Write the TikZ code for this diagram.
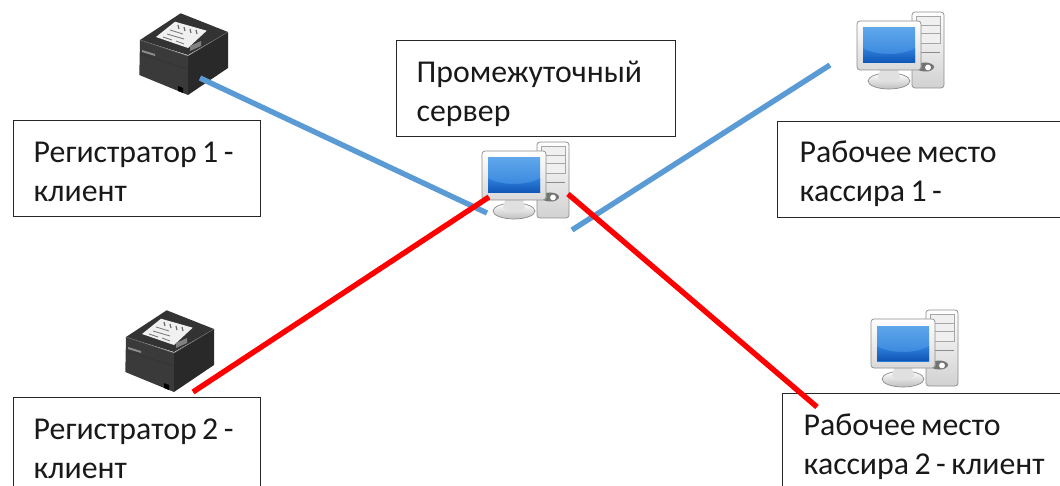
\documentclass[tikz,border=0pt]{standalone}
\usepackage{fontspec}
\setmainfont{Carlito}
\newcommand{\wsp}{\hspace{5.5pt}}
\definecolor{lineblue}{HTML}{5B9BD5}
\definecolor{linered}{HTML}{FF0000}
\definecolor{scrtop}{HTML}{5FA6EA}
\definecolor{scrmid}{HTML}{2F80DC}
\definecolor{scrlow}{HTML}{0E55B4}
\definecolor{prtop}{HTML}{333333}
\definecolor{prfront}{HTML}{3A3A3A}
\definecolor{prside}{HTML}{292929}
\tikzset{
  x=1pt,y=-1pt,
  labelbox/.style={draw=black!85,line width=1.4pt,fill=white,anchor=north west,inner sep=0pt,align=left,
    font=\fontsize{31.8}{39}\selectfont,text=black!90,text depth=46pt},
  wire/.style={line width=5.4pt,line cap=butt},
  printer/.pic={
    \fill[prtop] (40.7,0.3)--(88,19)--(48,42)--(0,27)--cycle;
    \fill[prfront] (0,27)--(48,43)--(48,82)--(-0.7,62)--cycle;
    \fill[prside] (88,19)--(88,55)--(48,82)--(48,43)--cycle;
    \draw[black!60,line width=.5pt] (0,27)--(48,43)--(88,19);
    \draw[black!80,line width=.6pt] (1,41)--(47,56);
    \fill[black!6] (35,8.7)--(66.7,17.7)--(48,35)--(16,24)--cycle;
    \draw[black!60,line width=1.2pt] (38,12)--(39,16) (44,14)--(45,18) (50,16)--(51,20) (56,17)--(57,21);
    \draw[black!55,line width=.8pt] (30,17)--(43,21) (27,21)--(44,26) (23,24)--(32,27) (36,28)--(44,31);
    \fill[black!50] (50,33)--(61,28)--(61,33)--(50,38)--cycle;
    \fill[black!45] (2,37)--(15,41)--(15,43)--(2,39)--cycle;
    \fill[black] (38,73)--(43,75)--(43,80)--(38,78)--cycle;
  },
  computer/.pic={
    % tower
    \draw[black!45,line width=.7pt,rounded corners=3pt,top color=white,bottom color=black!18] (55,0) rectangle (87,76);
    \draw[black!35,fill=black!6,line width=.5pt] (59,4) rectangle (83,13);
    \draw[black!35,fill=black!6,line width=.5pt] (59,13) rectangle (83,21);
    \draw[black!35,fill=black!6,line width=.5pt] (59,21) rectangle (83,31);
    \draw[black!45,line width=.8pt] (59,40)--(83,40);
    \fill[black!55] (68,55) ellipse (9 and 4.5);
    \fill[green!35!black!55] (62,55) ellipse (3 and 3);
    \draw[black!55,fill=white,line width=.8pt] (71,55.5) circle (3.5);
    % stand
    \draw[black!45,line width=.7pt,top color=white,bottom color=black!25] (32,69) ellipse (21 and 8);
    \fill[black!12] (23,58)--(41,58)--(43,66) .. controls (36,71) and (28,71) .. (21,66)--cycle;
    % monitor
    \draw[black!45,line width=.7pt,rounded corners=3pt,top color=white,bottom color=black!15] (0,9) rectangle (64,58);
    \shade[top color=scrtop,bottom color=scrmid] (6,16) rectangle (58,51);
    \shade[top color=scrmid,bottom color=scrlow] (6,36) .. controls (18,44) and (46,44) .. (58,36)--(58,51)--(6,51)--cycle;
  }
}
\begin{document}
\begin{tikzpicture}
\useasboundingbox (0,0) rectangle (1060,486);
\clip (0,0) rectangle (1060,486);
\fill[white] (0,0) rectangle (1060,486);
% label boxes
\node[labelbox,minimum width=247pt,minimum height=96pt,text width=207pt,inner xsep=20pt,text height=34pt] (reg1) at (13,120)
  {Регистратор\wsp 1\wsp -\\клиент};
\node[labelbox,minimum width=279pt,minimum height=96pt,text width=239pt,inner xsep=20pt,text height=34pt] (srv) at (396,40)
  {Промежуточный\\сервер};
\node[labelbox,minimum width=300pt,minimum height=96pt,text width=256pt,inner xsep=22pt,text height=32pt] (kas1) at (777,121)
  {Рабочее\wsp место\\кассира\wsp 1\wsp -};
\node[labelbox,minimum width=247pt,minimum height=100pt,text width=207pt,inner xsep=20pt,text height=30pt] (reg2) at (13,397)
  {Регистратор\wsp 2\wsp -\\клиент};
\node[labelbox,minimum width=300pt,minimum height=100pt,text width=258pt,inner xsep=20pt,text height=30pt] (kas2) at (782,393)
  {Рабочее\wsp место\\кассира\wsp 2\wsp -\wsp клиент};
% icons
\pic at (140,13) {printer};
\pic at (126,310) {printer};
\pic at (482,142) {computer};
\pic at (857,12) {computer};
\pic at (871,310) {computer};
% connector ends
\coordinate (pr1) at (200,78);
\coordinate (srvA) at (487,213);
\coordinate (ws1) at (830,65);
\coordinate (srvB) at (572,230);
\coordinate (pr2) at (193,392);
\coordinate (srvC) at (489,197);
\coordinate (srvD) at (568,194);
\coordinate (ws2) at (817,407);
\draw[wire,lineblue] (pr1)--(srvA);
\draw[wire,lineblue] (ws1)--(srvB);
\draw[wire,linered] (pr2)--(srvC);
\draw[wire,linered] (srvD)--(ws2);
\end{tikzpicture}
\end{document}
